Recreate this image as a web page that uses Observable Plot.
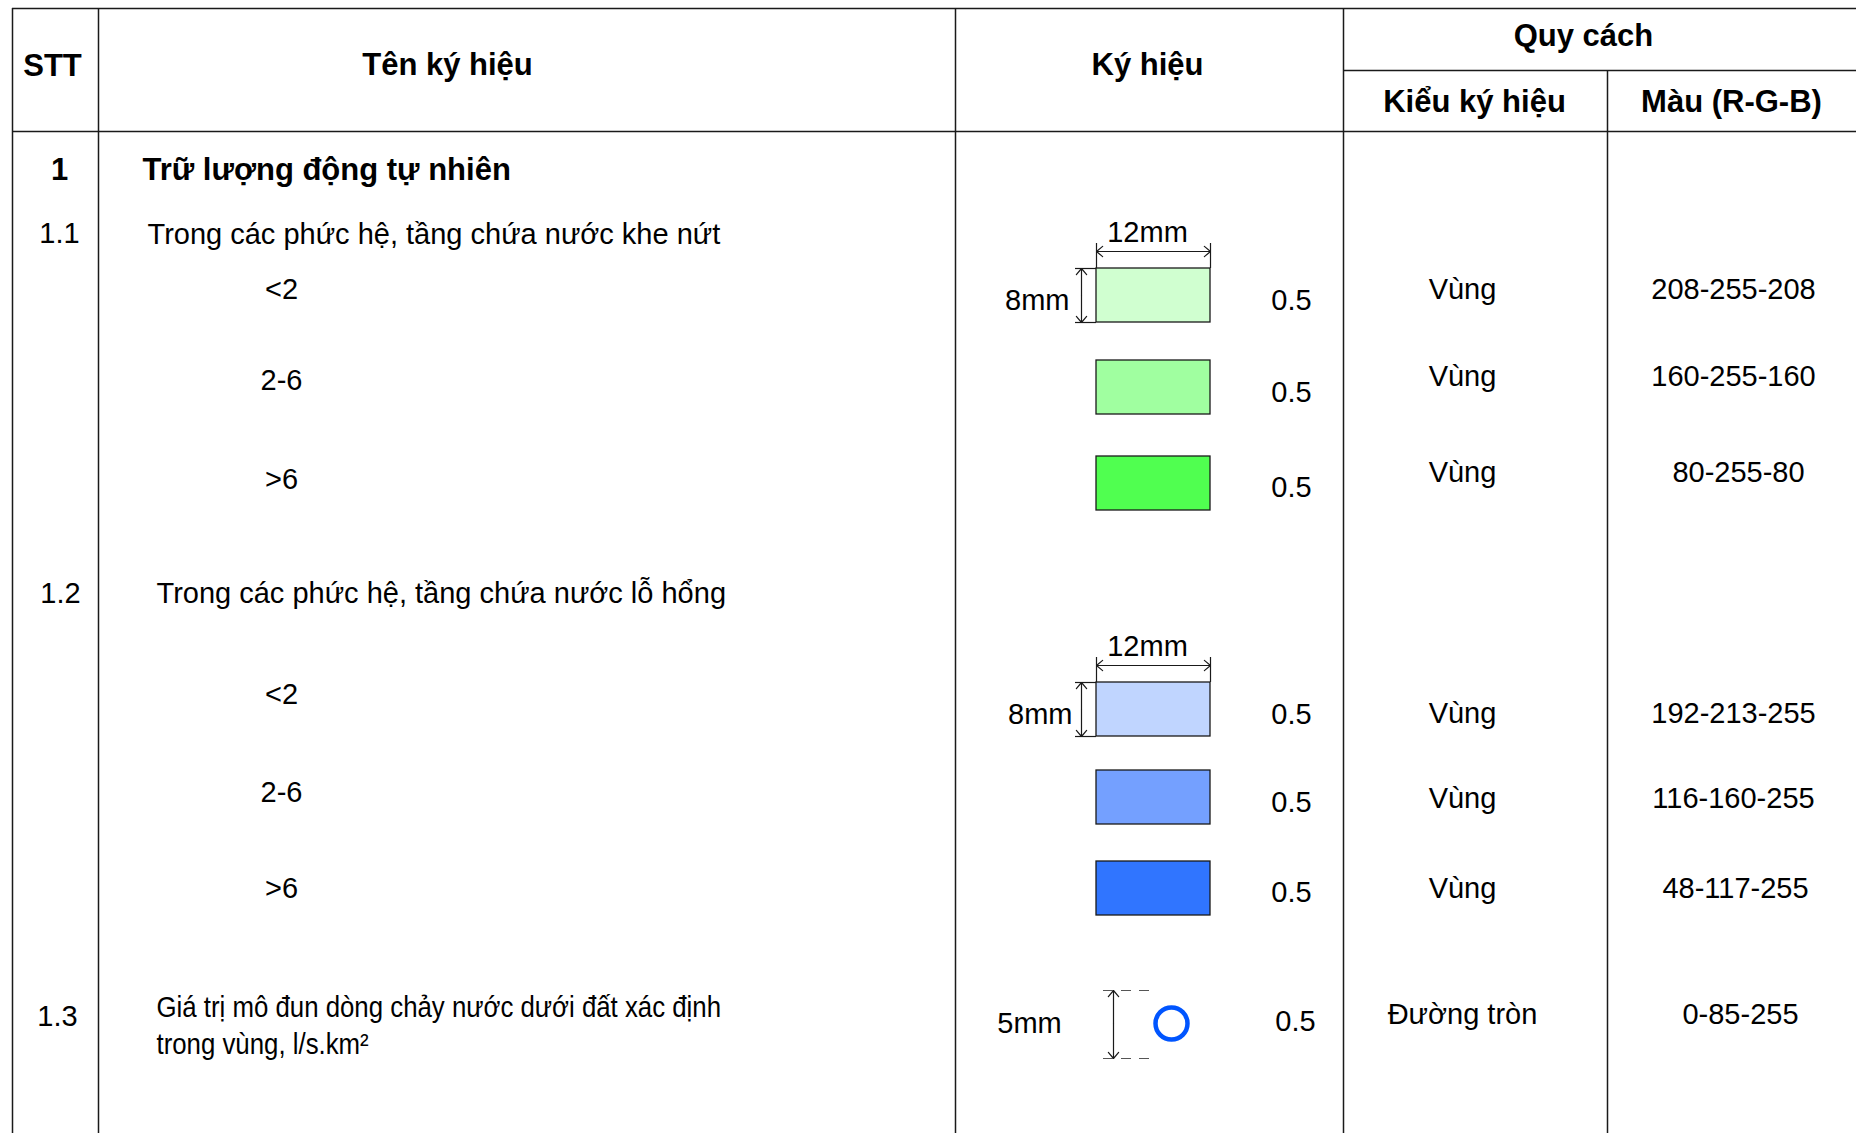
<!DOCTYPE html>
<html><head><meta charset="utf-8">
<script src="https://cdn.jsdelivr.net/npm/d3@7"></script>
<script src="https://cdn.jsdelivr.net/npm/@observablehq/plot@0.6"></script>
<style>html,body{margin:0;padding:0;background:#fff;overflow:hidden}</style>
</head><body><div id="chart"></div>
<script>
// ---------------- data ----------------
const headerTop = ["STT", "Tên ký hiệu", "Ký hiệu", "Quy cách"];
const headerSub = ["Kiểu ký hiệu", "Màu (R-G-B)"];
const sectionNo = ["1"];
const sectionName = ["Trữ lượng động tự nhiên"];
const itemNo = ["1.1", "1.2", "1.3"];
const itemName = [
  "Trong các phức hệ, tầng chứa nước khe nứt",
  "Trong các phức hệ, tầng chứa nước lỗ hổng",
  "Giá trị mô đun dòng chảy nước dưới đất xác định\ntrong vùng, l/s.km²"
];
const classLabel = ["<2", "2-6", ">6", "<2", "2-6", ">6"];
const classGroup = ["1.1", "1.1", "1.1", "1.2", "1.2", "1.2"];
const swatchRGB = ["208-255-208", "160-255-160", "80-255-80", "192-213-255", "116-160-255", "48-117-255"];
const swatchType = ["Vùng", "Vùng", "Vùng", "Vùng", "Vùng", "Vùng"];
const swatchLineWidth = ["0.5", "0.5", "0.5", "0.5", "0.5", "0.5"];
const swatchDims = ["12mm", "8mm"];
const circleRGB = ["0-85-255"];
const circleType = ["Đường tròn"];
const circleLineWidth = ["0.5"];
const circleDims = ["5mm"];

const rgbOf = s => `rgb(${s.split("-").join(",")})`;

// ---------------- layout (page geometry, pixels) ----------------
const W = 1856, H = 1133;
const col = {left: 12, stt: 98, name: 955, sym: 1343, color: 1607, right: 1856};
const rowLine = {top: 8, sub: 70, head: 131};
const headPos = {x: [52, 447, 1147, 1583], y: [66, 65, 65, 36], subX: [1474, 1731], subY: 102};
const sectionPos = {noX: 59, nameX: 142, y: 170};
const itemPos = {noX: [59, 60, 57], noY: [233, 593, 1016], nameX: [147, 156, 156], nameY: [231.5, 590.5, 1023]};
const swatchPos = {
  cy: [295, 387, 483, 709, 797, 888], half: 27, x1: 1096, x2: 1210,
  labelX: 281, labelY: [289, 380, 479, 694, 792, 888],
  valX: 1291, valY: [300, 392, 487, 714, 802, 892],
  typeX: 1462, typeY: [289, 376, 472, 713, 798, 888],
  colorX: [1733, 1733, 1738, 1733, 1733, 1735]
};
const dimPos = {hOff: 17, extOff: 25, textOff: 36, vX: 1081, vExtX: 1075, labelRight: [1069, 1072]};
const circlePos = {cx: 1171, cy: 1023, r: 16, dimX: 1113, y1: 990, y2: 1058, extX1: 1103, extX2: 1150,
  labelX: 1029, valX: 1295, valY: 1021, typeY: 1014, colorX: 1740};
const narrowScale = 0.89;

// ---------------- derived tables ----------------
const swatches = classLabel.map((label, i) => ({
  label, group: classGroup[i], rgb: swatchRGB[i], type: swatchType[i], lw: swatchLineWidth[i], i
}));
const firstOfGroup = swatches.filter((d, i) => i === 0 || classGroup[i] !== classGroup[i - 1]);
const rTop = d => swatchPos.cy[d.i] - swatchPos.half;
const rBot = d => swatchPos.cy[d.i] + swatchPos.half;
const midX = (swatchPos.x1 + swatchPos.x2) / 2;

const hLines = [
  {y: rowLine.top, x1: col.left, x2: col.right},
  {y: rowLine.sub, x1: col.sym, x2: col.right},
  {y: rowLine.head, x1: col.left, x2: col.right}
];
const vLines = [
  {x: col.left, y1: rowLine.top, y2: H},
  {x: col.stt, y1: rowLine.top, y2: H},
  {x: col.name, y1: rowLine.top, y2: H},
  {x: col.sym, y1: rowLine.top, y2: H},
  {x: col.color, y1: rowLine.sub, y2: H}
];

// dimension arrows (each dimension = two arrows from its middle to its ends)
const dimArrows = [
  ...firstOfGroup.flatMap(d => {
    const y = rTop(d) - dimPos.hOff;
    return [
      {x1: midX, y1: y, x2: swatchPos.x1, y2: y},
      {x1: midX, y1: y, x2: swatchPos.x2, y2: y}
    ];
  }),
  ...firstOfGroup.flatMap(d => {
    const m = swatchPos.cy[d.i];
    return [
      {x1: dimPos.vX, y1: m, x2: dimPos.vX, y2: rTop(d)},
      {x1: dimPos.vX, y1: m, x2: dimPos.vX, y2: rBot(d)}
    ];
  }),
  {x1: circlePos.dimX, y1: circlePos.cy, x2: circlePos.dimX, y2: circlePos.y1},
  {x1: circlePos.dimX, y1: circlePos.cy, x2: circlePos.dimX, y2: circlePos.y2}
];
const dimHExt = firstOfGroup.flatMap(d => [
  {x: swatchPos.x1, y1: rTop(d) - dimPos.extOff, y2: rTop(d)},
  {x: swatchPos.x2, y1: rTop(d) - dimPos.extOff, y2: rTop(d)}
]);
const dimVExt = firstOfGroup.flatMap(d => [
  {y: rTop(d), x1: dimPos.vExtX, x2: swatchPos.x1},
  {y: rBot(d), x1: dimPos.vExtX, x2: swatchPos.x1}
]);

const ink = "#1a1a1a";
const font = "'Liberation Sans', Arial, Helvetica, sans-serif";
const FS = 29, FSB = 31;

const chart = Plot.plot({
  width: W, height: H,
  margin: 0,
  x: {type: "linear", domain: [0, W], range: [0, W], axis: null},
  y: {type: "linear", domain: [0, H], range: [0, H], axis: null},
  style: {fontFamily: font, background: "#fff", color: "#000"},
  marks: [
    // grid of the table
    Plot.ruleY(hLines, {y: "y", x1: "x1", x2: "x2", stroke: ink, strokeWidth: 1.5}),
    Plot.ruleX(vLines, {x: "x", y1: "y1", y2: "y2", stroke: ink, strokeWidth: 1.5}),

    // header
    Plot.text(headerTop, {x: (d, i) => headPos.x[i], y: (d, i) => headPos.y[i], text: d => d,
      fontWeight: "bold", fontSize: FSB, fill: "#000"}),
    Plot.text(headerSub, {x: (d, i) => headPos.subX[i], y: headPos.subY, text: d => d,
      fontWeight: "bold", fontSize: FSB, fill: "#000"}),

    // section 1
    Plot.text(sectionNo, {x: sectionPos.noX, y: sectionPos.y, text: d => d, fontWeight: "bold", fontSize: FSB}),
    Plot.text(sectionName, {x: sectionPos.nameX, y: sectionPos.y, text: d => d, fontWeight: "bold",
      fontSize: FSB, textAnchor: "start"}),

    // item numbers and names
    Plot.text(itemNo, {x: (d, i) => itemPos.noX[i], y: (d, i) => itemPos.noY[i], text: d => d, fontSize: FS}),
    Plot.text(itemName, {x: (d, i) => itemPos.nameX[i], y: (d, i) => itemPos.nameY[i],
      text: d => d, fontSize: FS, textAnchor: "start", lineHeight: 1.28}),

    // class labels
    Plot.text(swatches, {x: swatchPos.labelX, y: d => swatchPos.labelY[d.i], text: "label", fontSize: FS}),

    // swatches
    Plot.rect(swatches, {x1: swatchPos.x1, x2: swatchPos.x2, y1: rTop, y2: rBot,
      fill: d => rgbOf(d.rgb), stroke: ink, strokeWidth: 1.3}),

    // dimension lines
    Plot.arrow(dimArrows, {x1: "x1", y1: "y1", x2: "x2", y2: "y2", stroke: ink, strokeWidth: 1.2,
      headLength: 10, headAngle: 80}),
    Plot.ruleX(dimHExt, {x: "x", y1: "y1", y2: "y2", stroke: ink, strokeWidth: 1.2}),
    Plot.ruleY(dimVExt, {y: "y", x1: "x1", x2: "x2", stroke: ink, strokeWidth: 1.2}),
    Plot.text(firstOfGroup, {x: midX - 6, y: d => rTop(d) - dimPos.textOff,
      text: () => swatchDims[0], fontSize: FS}),
    Plot.text(firstOfGroup, {x: (d, i) => dimPos.labelRight[i], y: d => swatchPos.cy[d.i] + 5,
      text: () => swatchDims[1], fontSize: FS, textAnchor: "end"}),

    // line width, type, colour for swatches
    Plot.text(swatches, {x: swatchPos.valX, y: d => swatchPos.valY[d.i], text: "lw", fontSize: FS}),
    Plot.text(swatches, {x: swatchPos.typeX, y: d => swatchPos.typeY[d.i], text: "type", fontSize: FS}),
    Plot.text(swatches, {x: d => swatchPos.colorX[d.i], y: d => swatchPos.typeY[d.i], text: "rgb", fontSize: FS}),

    // circle symbol row
    Plot.dot(circleRGB, {x: circlePos.cx, y: circlePos.cy, r: circlePos.r, fill: "none",
      stroke: d => rgbOf(d), strokeWidth: 4.5}),
    Plot.ruleY([circlePos.y1, circlePos.y2], {y: d => d, x1: circlePos.extX1, x2: circlePos.extX2,
      stroke: "#555", strokeWidth: 1.2, strokeDasharray: "10,8"}),
    Plot.text(circleDims, {x: circlePos.labelX, y: circlePos.cy, text: d => d, fontSize: FS}),
    Plot.text(circleLineWidth, {x: circlePos.valX, y: circlePos.valY, text: d => d, fontSize: FS}),
    Plot.text(circleType, {x: swatchPos.typeX, y: circlePos.typeY, text: d => d, fontSize: FS}),
    Plot.text(circleRGB, {x: circlePos.colorX, y: circlePos.typeY, text: d => d, fontSize: FS})
  ]
});

// condensed face for the 1.3 description (Arial Narrow look in the original)
chart.querySelectorAll("text").forEach(t => {
  if (t.textContent.startsWith(itemName[2].slice(0, 8))) {
    const tr = t.getAttribute("transform") || "";
    t.setAttribute("transform", `${tr} translate(${tr ? 0 : itemPos.nameX[2]},0) scale(${narrowScale},1) translate(${tr ? 0 : -itemPos.nameX[2]},0)`.trim());
  }
});

document.getElementById("chart").appendChild(chart);
</script></body></html>
